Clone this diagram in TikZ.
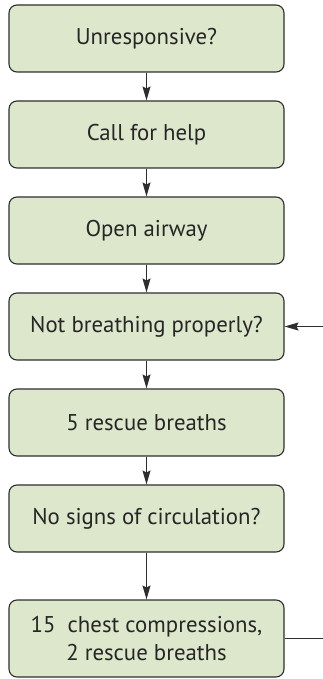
\documentclass[tikz,border=0pt]{standalone}
\usepackage{fontspec}
\setmainfont{PT Sans}
\usetikzlibrary{arrows.meta}
\definecolor{boxfill}{HTML}{DDE7CB}
\definecolor{boxline}{HTML}{2E2E2E}
\tikzset{
  stepbox/.style={draw=boxline, fill=boxfill, line width=1.1pt, rounded corners=8pt,
    minimum width=275pt, minimum height=67pt, inner sep=0pt, align=center,
    font=\fontsize{22.8pt}{28.5pt}\selectfont, text=black!85},
  conn/.style={draw=boxline, line width=1.1pt, -{Stealth[length=14pt,width=8pt,inset=2pt]}},
  plain/.style={draw=boxline, line width=1.1pt}
}
\begin{document}
\begin{tikzpicture}[x=1pt,y=-1pt]
\useasboundingbox (0,0) rectangle (323,679);
\node[stepbox] (b1) at (146.5,38.5) {Unresponsive?};
\node[stepbox] (b2) at (146.5,134.5) {Call for help};
\node[stepbox] (b3) at (146.5,230.5) {Open airway};
\node[stepbox] (b4) at (146.5,326.5) {Not breathing properly?};
\node[stepbox] (b5) at (146.5,422.5) {5 rescue breaths};
\node[stepbox] (b6) at (146.5,518.5) {No signs of circulation?};
\node[stepbox, minimum height=77pt] (b7) at (146.5,638.5) {15\ \ chest compressions,\\2 rescue breaths};
\coordinate (r7) at (323.5,638.5);
\coordinate (r4) at (323.5,326.5);
\draw[conn] (b1) -- (b2);
\draw[conn] (b2) -- (b3);
\draw[conn] (b3) -- (b4);
\draw[conn] (b4) -- (b5);
\draw[conn] (b5) -- (b6);
\draw[conn] (b6) -- (b7);
\draw[plain] (b7.east) -- (r7);
\draw[conn] (r4) -- (b4.east);
\end{tikzpicture}
\end{document}
